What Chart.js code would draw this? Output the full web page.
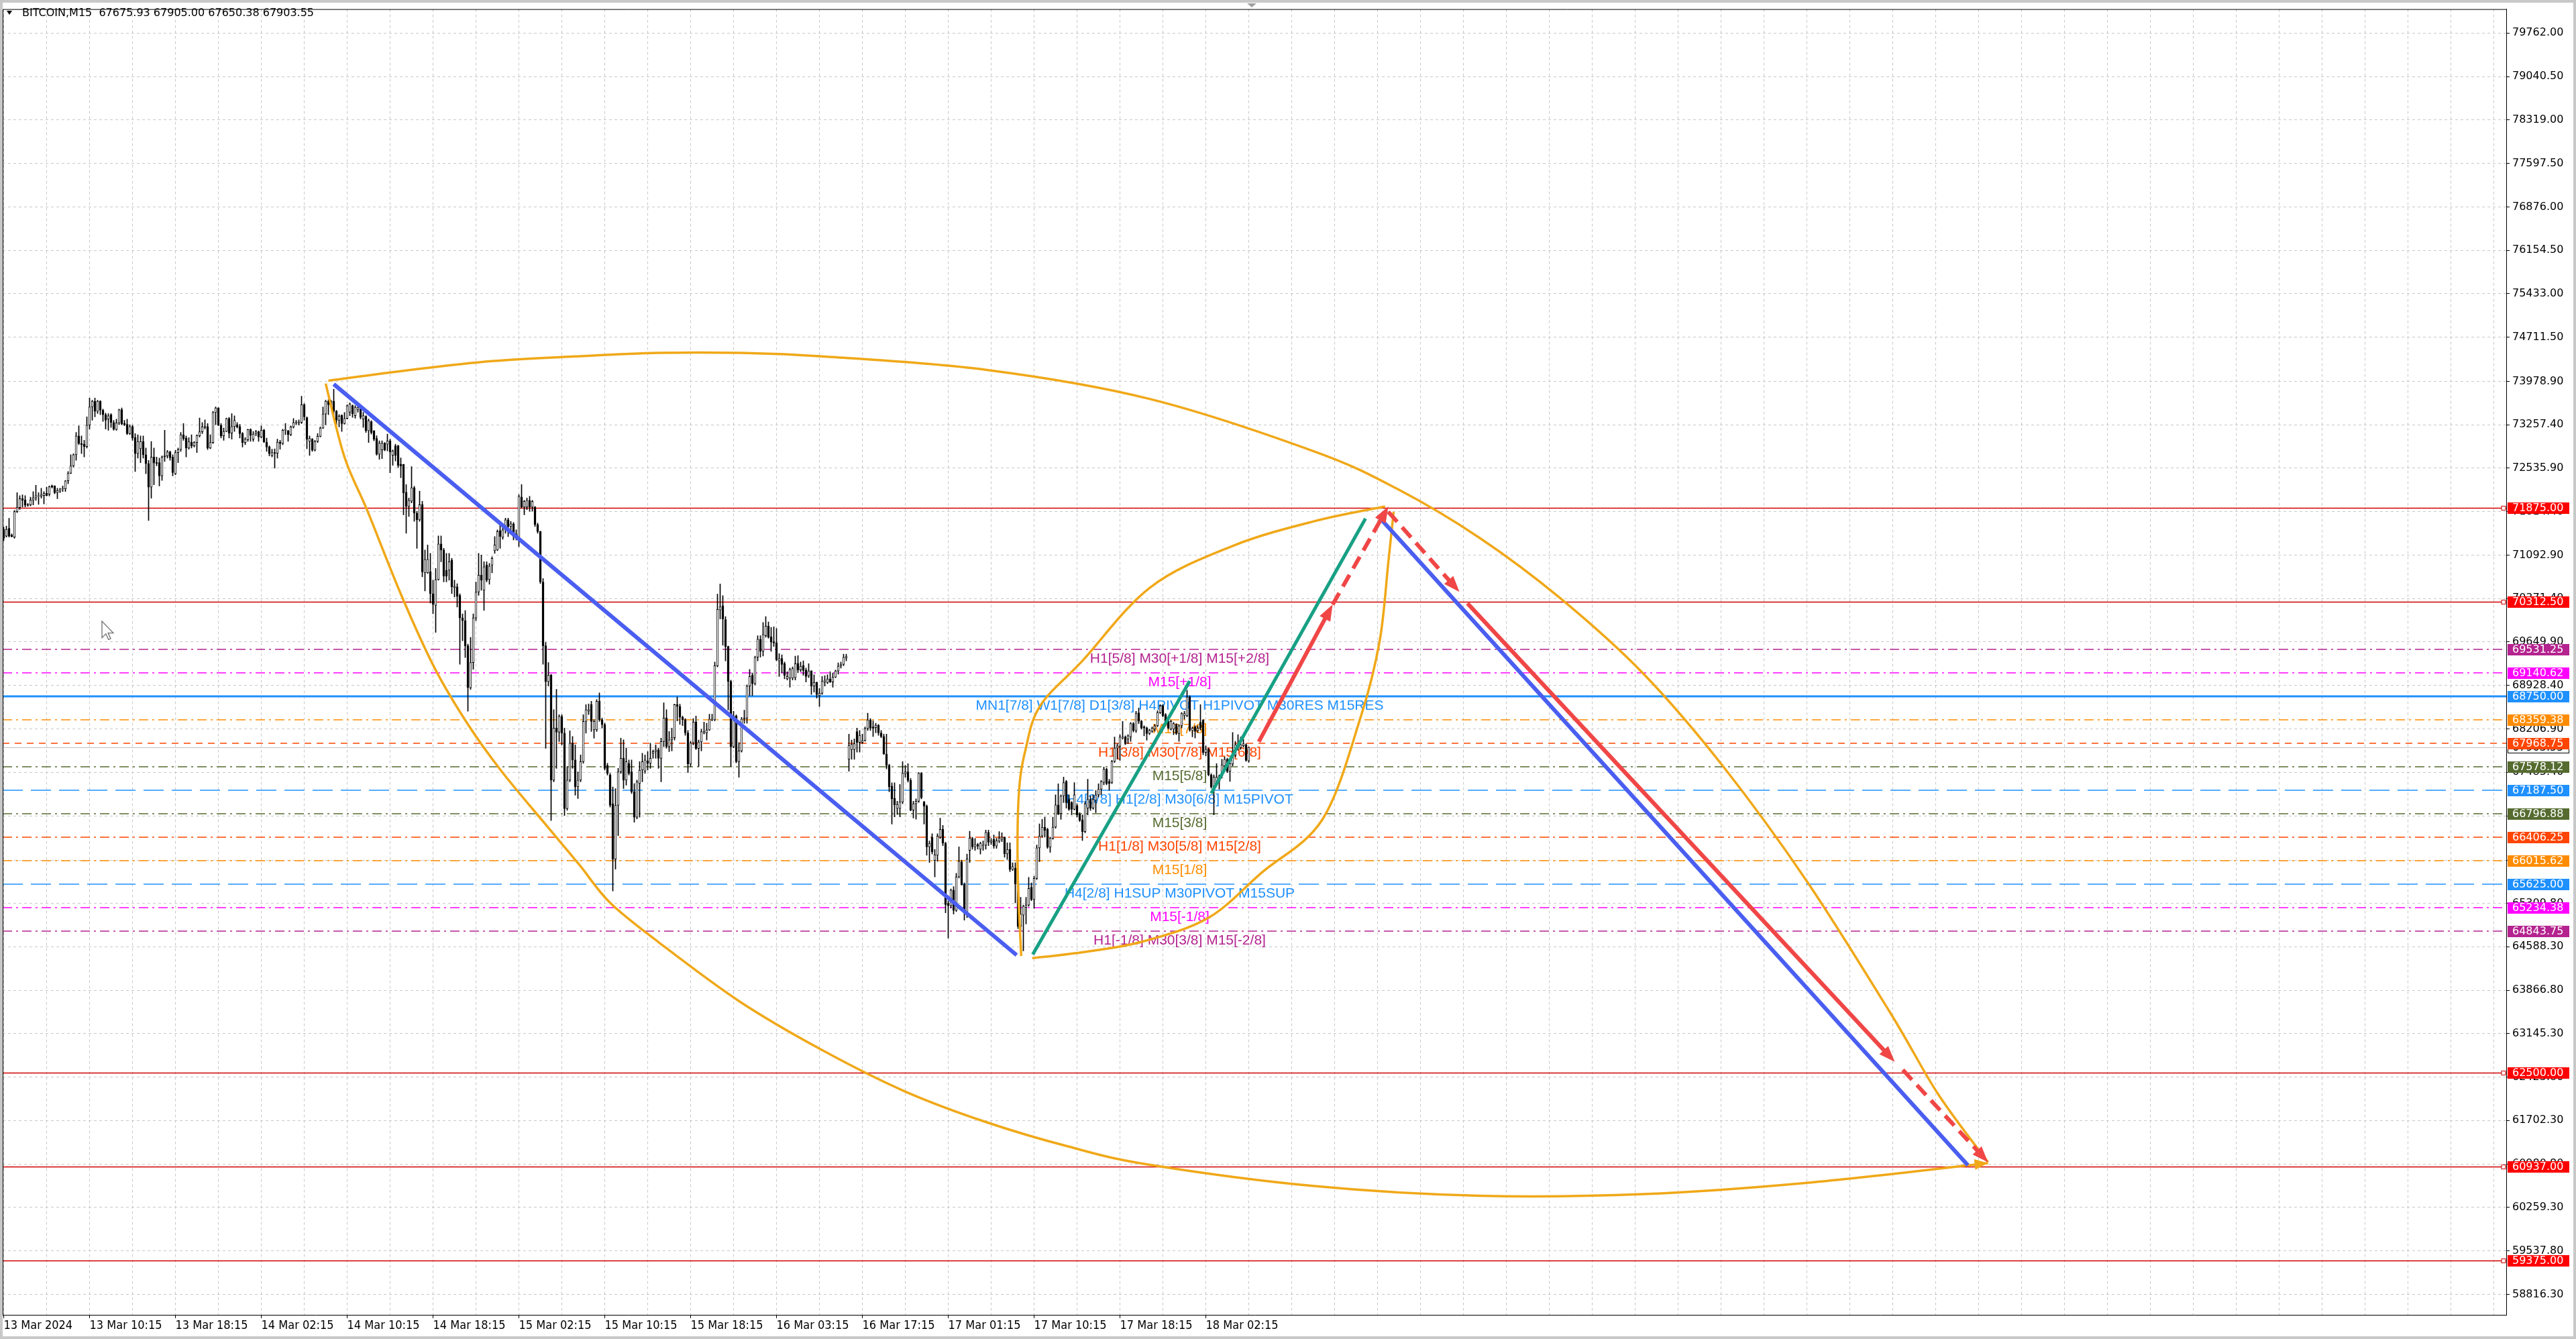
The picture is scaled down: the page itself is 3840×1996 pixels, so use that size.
<!DOCTYPE html>
<html>
<head>
<meta charset="utf-8">
<script src="https://cdn.jsdelivr.net/npm/chart.js@4.4.1/dist/chart.umd.min.js"></script>
<style>
  html, body { margin: 0; padding: 0; background: #fff; }
  canvas { display: block; }
</style>
</head>
<body>
<canvas id="chart" width="3840" height="1996" style="width:3840px;height:1996px"></canvas>
<script>
// BITCOIN M15 candles (bar index = position on the time axis)
const opens = [
71519,71408,71538,71427,71390,71815,71882,72030,72007,71933,
71926,72007,72044,72067,72067,72081,72118,72104,72241,72241,
72130,72155,72192,72192,72326,72451,72574,72759,73073,72944,
72932,72896,73251,73554,73647,73480,73647,73499,73425,73351,
73425,73295,73177,73288,73510,73277,73265,73110,73228,73043,
72777,72858,72977,72759,72611,72222,72722,72629,72629,72407,
72740,72740,72807,72722,72444,72796,72844,73092,73036,72870,
72970,72907,72962,73073,73140,73228,73228,72870,72962,73462,
73536,73251,73073,73147,73362,73118,73228,73258,73228,73110,
72962,73006,73177,73018,73110,73140,73055,73166,72970,72888,
72747,72796,72784,72970,72944,73166,73155,73092,73221,73288,
73288,73295,73591,73376,72981,73018,72833,72981,73066,73203,
73436,73647,73573,73647,73480,73332,73413,73277,73362,
73465,73577,73409,73510,73521,73353,73398,73158,73309,73158,
73030,72768,72840,72952,72935,72991,72751,72907,72907,72600,
72600,72137,71902,71986,72210,71791,71679,71930,70798,70798,
70815,70452,70257,70686,71278,71177,70842,70842,71010,70552,
70564,70424,70050,70005,69587,68889,69308,70050,70480,70759,
70508,70926,70686,70926,71166,71177,71501,71389,71512,71679,
71568,71612,71445,71373,72059,71891,71891,72003,71891,71891,
71596,71484,70647,69587,68990,69101,67355,68220,68153,68415,
68136,66881,67355,67969,67690,67243,67355,67662,68331,68499,
68611,68192,68192,68666,68359,68276,67595,67439,66964,66043,
66937,67494,67718,67355,67634,67494,67160,66741,67299,67522,
67506,67673,67634,67801,67829,67857,67718,67997,68387,67913,
68029,68060,68611,68579,68399,68359,68140,67622,67973,68320,
67881,67989,68140,68140,68188,68359,68359,69256,70181,70253,
70022,69575,68997,67909,68419,67662,67841,68371,68387,68917,
69097,68957,69396,69695,69495,69754,69914,69735,69655,69635,
69336,69376,69288,69037,69049,69049,69057,69296,69184,69256,
69184,69089,69169,68917,68977,68758,68798,68985,68977,69037,
68985,69065,69169,69248,69276,69384,67702,67861,67861,68160,
67981,67981,68013,68212,68355,68240,68228,68268,68140,68080,
67789,67602,67255,67056,66885,66885,66992,67462,67494,67351,
66857,66964,67004,67470,66992,66924,66247,66406,66020,66107,
66406,66538,66307,65310,65270,65529,65190,65749,65996,65621,
65151,66187,66386,66247,66287,66207,66267,66275,66486,66326,
66371,66260,66341,66371,66408,66131,66205,65872,65890,65631,
64928,65113,65242,65280,65576,65372,65724,66230,66427,66575,
66538,66241,66390,66575,66945,66797,67093,67333,67037,66982,
66871,66933,66786,66697,66500,66889,67037,66889,67019,67111,
67204,67315,67537,67333,67315,67666,67888,67918,68055,68073,
68036,68073,68295,68177,68473,68332,68240,68221,68129,68166,
68203,68258,68473,68591,68443,68339,68203,68203,68277,68129,
68258,68425,68425,68739,68177,68240,68177,68314,68351,67814,
67869,67444,67241,67315,67333,67426,67592,67703,67500,67622,
67770,67944,67895,67925,67944,67675.93
];
const highs = [
71556,71575,71704,71445,71834,72130,72081,72093,72081,71952,
72056,72148,72252,72130,72204,72148,72222,72241,72259,72245,
72204,72204,72241,72333,72481,72759,72777,73129,73240,73073,
72999,73388,73702,73665,73702,73665,73660,73517,73450,73443,
73443,73332,73351,73517,73536,73332,73351,73258,73251,73110,
73092,73073,73073,72870,72666,72981,72870,72722,72703,72740,
73166,72833,72821,72759,72833,72870,73129,73277,73073,73043,
73092,72981,73092,73369,73295,73339,73277,73092,73480,73554,
73543,73277,73203,73369,73380,73443,73406,73295,73265,73129,
73043,73184,73191,73147,73166,73154,73240,73184,73036,72907,
72851,72858,73018,72999,73184,73277,73166,73240,73362,73332,
73339,73732,73610,73388,73073,73029,72999,73110,73221,73554,
73665,73672,73665,73850,73499,73425,73425,73462,73591,
73621,73588,73577,73577,73532,73465,73409,73353,73326,73160,
73074,72991,72991,72963,73102,73019,72840,72935,72918,72706,
72600,72265,72042,72561,72237,71819,72154,71986,71177,71261,
71122,70675,70870,71412,71412,71205,71122,71122,71038,70675,
70619,70452,70117,70173,69615,69726,70117,70647,71122,71094,
70982,70982,70954,71066,71400,71512,71624,71568,71707,71707,
71652,71635,71512,72098,72265,72003,72042,72070,72003,71902,
71624,71490,70703,69643,69308,69113,68527,68862,68443,68443,
68220,67578,68175,68081,67941,67494,67774,68443,68611,68622,
68666,68359,68694,68806,68387,68304,67634,67467,67243,67215,
67550,68053,68025,67885,67690,67690,67299,67355,67662,67801,
67774,67829,67969,67857,67941,67885,68053,68639,68527,68164,
68220,68619,68738,68619,68419,68379,68180,68001,68379,68419,
68021,68200,68320,68300,68451,68451,69316,70444,70611,70420,
70073,69583,69017,68499,68439,67981,68399,68519,68937,69196,
69137,69416,69754,69754,69974,70073,69982,69894,69902,69874,
69456,69436,69316,69157,69216,69236,69416,69424,69316,69336,
69216,69288,69176,69105,68985,68878,69077,69089,69105,69157,
69137,69184,69304,69316,69448,69448,68120,68021,68041,68220,
68180,68120,68240,68467,68379,68339,68300,68280,68180,68120,
68120,67622,67311,67311,67004,67283,67662,67602,67630,67383,
67004,67044,67482,67482,67004,66944,66346,66466,66207,66466,
66725,66605,66326,65350,65549,65589,65808,66247,66028,65649,
66127,66506,66406,66386,66307,66326,66346,66526,66526,66386,
66445,66390,66500,66482,66408,66316,66316,65983,65983,65650,
65409,65280,65409,65742,65650,65761,66279,66630,66704,66741,
66556,66408,66741,67111,67296,67111,67407,67352,67111,67000,
67315,66963,66815,66778,67000,67370,67093,67111,67185,67296,
67352,67574,67555,67370,67685,68073,67962,68110,68332,68092,
68110,68314,68314,68499,68554,68351,68258,68240,68203,68240,
68277,68510,68610,68610,68462,68351,68351,68314,68295,68277,
68480,68499,68850,68758,68240,68258,68258,68610,68362,67925,
67888,67463,67444,67629,67444,67703,67740,67722,67648,68147,
67999,68110,68073,68036,67962,67905.00
];
const lows = [
71334,71390,71390,71390,71371,71797,71852,71889,71889,71900,
71908,71926,72000,71933,72037,71944,72074,72074,72204,72111,
72030,72130,72148,72148,72278,72444,72555,72666,72925,72777,
72722,72870,73184,73332,73388,73443,73425,73314,73184,73166,
73214,73166,73166,73258,73258,73240,73092,73092,72999,72481,
72703,72629,72703,72444,71667,72037,72259,72574,72241,72333,
72648,72703,72666,72407,72426,72629,72814,72999,72722,72851,
72870,72888,72796,73055,73110,73184,72844,72858,72944,73258,
73240,73036,72999,73140,73036,73018,73147,73203,73036,72888,
72925,72981,72981,72981,73073,72981,73036,72962,72814,72740,
72722,72537,72703,72851,72925,73092,72981,73073,73203,73258,
73251,73277,73332,72858,72747,72814,72821,72962,73055,73192,
73258,73425,73554,73425,73258,73221,73147,73265,73351,
73409,73381,73365,73465,73353,73214,73130,72963,73102,72991,
72751,72684,72695,72823,72823,72461,72583,72656,72544,72377,
71763,71456,71735,71958,71652,71205,71652,70731,70497,70787,
70296,70117,69810,70675,70982,70647,70647,70675,70452,70396,
70229,69280,69671,69392,68499,68862,69196,70005,70424,70508,
70173,70647,70608,70798,71122,71166,71205,71356,71456,71400,
71501,71345,71345,71233,71875,71763,71847,71819,71819,71568,
71456,70619,69280,67885,68917,66685,67327,67550,67997,67941,
66769,66853,67327,67550,67104,67048,67327,67634,68136,68443,
68164,68053,68164,68331,68220,67522,67439,66908,65514,65875,
66434,67467,67215,67271,67439,67132,66657,66713,66741,67327,
67467,67522,67550,67718,67718,67550,67327,67913,67885,67829,
67841,68021,68339,68280,68260,68100,67482,67582,67941,67861,
67582,67841,68120,68021,68180,68339,68339,69236,70033,69595,
69336,68519,67582,67893,67642,67403,67821,68300,68300,68758,
68758,68937,69336,69396,69416,69727,69711,69495,69575,69336,
69077,69137,69037,69017,68897,69017,69017,69137,69157,69097,
68985,69057,68778,68818,68718,68579,68778,68917,68957,68977,
68897,69057,69117,69216,69256,69336,67502,67702,67702,67821,
67821,67961,68001,68180,68180,68080,68140,68100,68060,67781,
67542,67164,66625,66745,66785,66745,66964,67403,67323,66845,
66725,66705,66984,67044,66625,66107,65988,66127,65749,66008,
66386,66267,65151,64732,65230,65131,65171,65729,65609,65031,
65071,65988,66207,66187,66207,66127,66187,66207,66267,66287,
66223,66223,66316,66334,66075,66038,65835,65853,65316,64891,
64854,64521,64965,65261,65354,65224,65705,66001,66408,66408,
66223,66156,66371,66556,66778,66704,66982,66889,66852,66778,
66860,66741,66667,66352,66482,66778,66852,66871,66815,67074,
67111,67278,67278,67185,67296,67648,67703,67685,68036,67944,
67962,67999,68154,68147,68295,68203,68092,68018,68110,68147,
68166,68240,68462,68406,68314,68203,68184,68110,68110,67999,
68221,68369,68406,68166,68073,68055,68147,68184,67777,67759,
67426,67222,66778,67259,67204,67389,67562,67481,67333,67592,
67740,67851,67869,67906,67666,67650.38
];
const closes = [
71371,71519,71408,71401,71815,71889,72030,72000,71919,71919,
72007,72044,72081,72081,72093,72118,72081,72229,72222,72130,
72166,72192,72204,72326,72451,72574,72759,73073,72944,72925,
72896,73251,73554,73647,73480,73647,73499,73425,73332,73406,
73295,73184,73288,73506,73273,73258,73110,73228,73036,72777,
72981,72981,72759,72611,72222,72722,72622,72618,72407,72722,
72729,72807,72710,72463,72796,72844,73092,73029,72870,72981,
72907,72962,73081,73140,73221,73214,72870,72962,73462,73536,
73251,73073,73147,73362,73118,73228,73332,73221,73110,72962,
73018,73177,73081,73103,73140,73055,73166,72970,72888,72777,
72796,72784,72970,72944,73166,73173,73092,73221,73295,73302,
73302,73591,73388,73018,73029,72833,72981,73066,73203,73436,
73647,73591,73647,73480,73332,73399,73277,73362,73573,
73605,73437,73549,73549,73381,73409,73158,73326,73130,73019,
72768,72952,72952,72840,72991,72807,72823,72751,72583,72572,
72126,71902,72003,72210,71791,71679,71930,70815,71021,71021,
70452,70273,70686,71278,71177,70742,70742,70982,70564,70575,
70407,70050,70005,69587,68889,69308,70050,70480,70759,70675,
70898,70675,70909,71038,71261,71484,71400,71512,71679,71568,
71612,71400,71373,72070,71891,71986,72003,71891,71986,71596,
71484,70647,69587,68990,69101,67355,68220,68153,68415,68136,
66881,67355,67969,67690,67243,67355,67662,68331,68527,68527,
68331,68331,68666,68359,68276,67550,67467,66937,66043,66937,
67494,67718,67355,67662,67467,67160,66741,67327,67522,67662,
67690,67634,67718,67829,67857,67718,67997,68387,67913,68025,
68060,68611,68579,68399,68359,68140,67622,67973,68320,67881,
67989,68160,68160,68188,68371,68371,69256,70193,70233,70033,
69575,68997,67909,68419,67662,67841,68371,68387,68917,69077,
68957,69396,69695,69495,69774,69914,69727,69647,69635,69356,
69376,69276,69097,69077,69196,69208,69288,69184,69248,69176,
69077,69169,68917,68977,68778,68798,68997,69017,69037,68985,
69065,69169,69248,69276,69396,69408,67933,67949,67961,67981,
68100,68013,68212,68355,68220,68220,68268,68140,68080,67789,
67602,67243,67044,66944,66952,66992,67470,67494,67351,66857,
66964,67004,67470,67064,66924,66247,66307,66167,66115,66426,
66538,66307,65290,65270,65529,65190,65749,66008,65621,65151,
66047,66394,66247,66287,66259,66307,66275,66486,66326,66346,
66260,66352,66390,66408,66131,66205,65872,65920,65631,64928,
65131,65261,65280,65557,65372,65724,66230,66427,66575,66519,
66241,66390,66575,66945,66797,67093,67315,66982,66871,66871,
67111,66778,66686,66500,66963,67037,66889,67037,67111,67204,
67333,67537,67296,67296,67666,67888,67925,68073,68073,67962,
68092,68295,68177,68462,68332,68221,68221,68129,68184,68221,
68258,68480,68591,68425,68332,68221,68332,68295,68129,68258,
68462,68462,68739,68184,68221,68166,68221,68221,67814,67869,
67444,67241,67407,67407,67426,67611,67703,67500,67629,67777,
67944,67888,67944,67962,67685,67903.55
];

// axis labels
const timeLabels = ["13 Mar 2024","13 Mar 10:15","13 Mar 18:15","14 Mar 02:15","14 Mar 10:15",
  "14 Mar 18:15","15 Mar 02:15","15 Mar 10:15","15 Mar 18:15","16 Mar 03:15","16 Mar 17:15",
  "17 Mar 01:15","17 Mar 10:15","17 Mar 18:15","18 Mar 02:15"];
const priceTicks = [79762.00,79040.50,78319.00,77597.50,76876.00,76154.50,75433.00,74711.50,
  73978.90,73257.40,72535.90,71814.40,71092.90,70371.40,69649.90,68928.40,68206.90,67485.40,
  66763.90,66021.30,65309.80,64588.30,63866.80,63145.30,62423.80,61702.30,60980.80,60259.30,
  59537.80,58816.30];

// horizontal levels
const redLevels = [71875, 70312.5, 62500, 60937, 59375];
const mmLevels = [69531.25, 69140.62, 68750, 68359.38, 67968.75, 67578.12, 67187.5,
  66796.88, 66406.25, 66015.62, 65625, 65234.38, 64843.75];
const mmTexts = ["H1[5/8] M30[+1/8] M15[+2/8]", "M15[+1/8]",
  "MN1[7/8] W1[7/8] D1[3/8] H4PIVOT H1PIVOT M30RES M15RES", "M15[7/8]",
  "H1[3/8] M30[7/8] M15[6/8]", "M15[5/8]", "H4[3/8] H1[2/8] M30[6/8] M15PIVOT", "M15[3/8]",
  "H1[1/8] M30[5/8] M15[2/8]", "M15[1/8]", "H4[2/8] H1SUP M30PIVOT M15SUP", "M15[-1/8]",
  "H1[-1/8] M30[3/8] M15[-2/8]"];
const bidPrice = 67903.55;
const header = "BITCOIN,M15  67675.93 67905.00 67650.38 67903.55";

// drawn objects, as [bar, price] points
const blueLines = [[[123, 73932], [377.5, 64450]], [[513, 71703], [732, 60960]]];
const greenLines = [[[383.5, 64460], [442, 69000]], [[450, 67136], [507.5, 71700]]];
const redSolid = [[[467.75, 67994], [495.25, 70270]], [[545.5, 70292], [704.75, 62677]]];
const redDashed = [[[495.25, 70270], [516, 71900]], [[516, 71812], [542.5, 70481]],
  [[707.75, 62544], [739.5, 61010]]];
const arcTop = [[121,73990],[152,74170],[182,74314],[213,74392],[244,74450],[274,74450],
  [305,74392],[366,74170],[427,73687],[488,72821],[519,72200],[550,71380],[580,70380],
  [611,69126],[641,67572],[672,65676],[703,63497],[721,62134],[739.5,61010]];
const arcBottom = [[120,73942],[127,72721],[135.5,71834],[148,70446],[160.5,69225],[173,68282],
  [185.5,67505],[202,66617],[214.5,65951],[226,65318],[244,64666],[274,63687],[305,62872],
  [335.5,62193],[366,61678],[397,61268],[427,60968],[488.5,60613],[550,60452],[611,60480],
  [672,60668],[739.5,60996]];
const arcLeft = [[379.2,64434],[377.9,65818],[378.3,67117],[380.8,67860],[386.3,68593],
  [402,69336],[427.3,70557],[458,71245],[488.5,71656],[514.8,71900]];
const arcRight = [[383.3,64398],[403.8,64509],[424.5,64675],[448.8,65064],[468.8,65818],
  [491.5,66706],[505.8,68416],[512.8,69670],[516,70969],[518,71812]];

// styles
const PURPLE = '#b4238f', MAGENTA = '#ff00ff', BLUE = '#1e90ff', ORANGE = '#ff8c00',
  ORANGERED = '#ff4500', OLIVE = '#556b2f';
const DASHDOT = [14, 6, 3, 6], DASH = [10, 8], LONG = [30, 12];
const mmColors = [PURPLE, MAGENTA, BLUE, ORANGE, ORANGERED, OLIVE, BLUE, OLIVE, ORANGERED,
  ORANGE, BLUE, MAGENTA, PURPLE];
const mmDash = [DASHDOT, DASHDOT, [], DASHDOT, DASH, DASHDOT, LONG, DASHDOT, DASHDOT, DASHDOT,
  LONG, DASHDOT, DASHDOT];
const textBar = 438.25;

const bars = opens.map((_, i) => i);
const fmt = v => v.toFixed(2);

function smoothPath(ctx, pts) {
  ctx.moveTo(pts[0][0], pts[0][1]);
  for (let i = 0; i < pts.length - 1; i++) {
    const p0 = pts[Math.max(i - 1, 0)], p1 = pts[i], p2 = pts[i + 1];
    const p3 = pts[Math.min(i + 2, pts.length - 1)];
    ctx.bezierCurveTo(p1[0] + (p2[0] - p0[0]) / 6, p1[1] + (p2[1] - p0[1]) / 6,
      p2[0] - (p3[0] - p1[0]) / 6, p2[1] - (p3[1] - p1[1]) / 6, p2[0], p2[1]);
  }
}

function arrowHead(ctx, from, to, len, half, color) {
  const a = Math.atan2(to[1] - from[1], to[0] - from[0]);
  const bx = to[0] - len * Math.cos(a), by = to[1] - len * Math.sin(a);
  ctx.fillStyle = color;
  ctx.beginPath();
  ctx.moveTo(to[0], to[1]);
  ctx.lineTo(bx + half * Math.sin(a), by - half * Math.cos(a));
  ctx.lineTo(bx - half * Math.sin(a), by + half * Math.cos(a));
  ctx.closePath();
  ctx.fill();
}

// shortened end so a thick line does not poke through its arrow tip
function backOff(from, to, d) {
  const a = Math.atan2(to[1] - from[1], to[0] - from[0]);
  return [to[0] - d * Math.cos(a), to[1] - d * Math.sin(a)];
}

const levelsPlugin = {
  id: 'levels',
  beforeDatasetsDraw(chart) {
    const { ctx, chartArea: a, scales: { x, y } } = chart;
    ctx.save();
    ctx.beginPath();
    ctx.rect(a.left, a.top, a.right - a.left, a.bottom - a.top);
    ctx.clip();

    // bid line
    let py = Math.round(y.getPixelForValue(bidPrice)) + 0.5;
    ctx.strokeStyle = '#c0c0c0';
    ctx.lineWidth = 1;
    ctx.beginPath(); ctx.moveTo(a.left, py); ctx.lineTo(a.right, py); ctx.stroke();

    // murrey math lines
    mmLevels.forEach((v, i) => {
      const yy = Math.round(y.getPixelForValue(v));
      ctx.strokeStyle = mmColors[i];
      ctx.lineWidth = i === 2 ? 3 : 1.5;
      ctx.setLineDash(mmDash[i]);
      ctx.beginPath(); ctx.moveTo(a.left, yy); ctx.lineTo(a.right, yy); ctx.stroke();
    });
    ctx.setLineDash([]);

    // red lines with the little square handle
    redLevels.forEach(v => {
      const yy = Math.round(y.getPixelForValue(v)) + 0.5;
      ctx.strokeStyle = '#d00000';
      ctx.lineWidth = 1.5;
      ctx.beginPath(); ctx.moveTo(a.left, yy); ctx.lineTo(a.right, yy); ctx.stroke();
      ctx.fillStyle = '#fff';
      ctx.lineWidth = 1;
      ctx.fillRect(a.right - 7, yy - 3, 6, 6);
      ctx.strokeRect(a.right - 7, yy - 3, 6, 6);
    });

    // level texts
    ctx.font = '21px "Liberation Sans", Arial, sans-serif';
    ctx.textAlign = 'center';
    ctx.textBaseline = 'alphabetic';
    const cx = x.getPixelForValue(textBar);
    mmLevels.forEach((v, i) => {
      ctx.fillStyle = mmColors[i];
      ctx.fillText(mmTexts[i], cx, y.getPixelForValue(v) + 20);
    });
    ctx.restore();
  },
  afterDatasetsDraw(chart) {
    const { ctx, chartArea: a, scales: { x, y } } = chart;
    const P = p => [x.getPixelForValue(p[0]), y.getPixelForValue(p[1])];
    ctx.save();
    ctx.beginPath();
    ctx.rect(a.left, a.top, a.right - a.left, a.bottom - a.top);
    ctx.clip();
    ctx.lineCap = 'butt';

    // orange curves
    ctx.strokeStyle = '#f0a818';
    ctx.lineWidth = 3.5;
    [arcTop, arcBottom, arcLeft, arcRight].forEach(arc => {
      const pts = arc.map(P);
      ctx.beginPath(); smoothPath(ctx, pts); ctx.stroke();
    });
    const ab = arcBottom.map(P);
    arrowHead(ctx, ab[ab.length - 2], ab[ab.length - 1], 20, 8, '#f0a818');

    // trend lines
    ctx.lineWidth = 6;
    ctx.strokeStyle = '#4a5ef0';
    blueLines.forEach(s => {
      const p = s.map(P);
      ctx.beginPath(); ctx.moveTo(p[0][0], p[0][1]); ctx.lineTo(p[1][0], p[1][1]); ctx.stroke();
    });
    ctx.lineWidth = 5;
    ctx.strokeStyle = '#17a084';
    greenLines.forEach(s => {
      const p = s.map(P);
      ctx.beginPath(); ctx.moveTo(p[0][0], p[0][1]); ctx.lineTo(p[1][0], p[1][1]); ctx.stroke();
    });

    // red arrows
    const RED = '#f04646';
    ctx.strokeStyle = RED;
    ctx.lineWidth = 6;
    const drawArrow = (s, dash) => {
      const p = s.map(P);
      const end = backOff(p[0], p[1], 14);
      ctx.setLineDash(dash);
      ctx.beginPath(); ctx.moveTo(p[0][0], p[0][1]); ctx.lineTo(end[0], end[1]); ctx.stroke();
      ctx.setLineDash([]);
      arrowHead(ctx, p[0], p[1], 24, 9, RED);
    };
    redSolid.forEach(s => drawArrow(s, []));
    redDashed.forEach(s => drawArrow(s, [20, 11]));
    ctx.restore();
  },
  afterDraw(chart) {
    const { ctx, chartArea: a, scales: { y } } = chart;
    ctx.save();
    // outer window frame and chart frame
    ctx.strokeStyle = '#c8c8c8';
    ctx.lineWidth = 4;
    ctx.strokeRect(2, 2, chart.width - 4, chart.height - 4);
    ctx.strokeStyle = '#000';
    ctx.lineWidth = 1;
    ctx.beginPath();
    ctx.moveTo(a.left + 0.5, a.bottom); ctx.lineTo(a.left + 0.5, a.top + 0.5);
    ctx.lineTo(a.right, a.top + 0.5);
    ctx.stroke();

    // price boxes on the right scale
    ctx.font = '16px "DejaVu Sans", Verdana, sans-serif';
    ctx.textAlign = 'left';
    ctx.textBaseline = 'middle';
    const box = (v, bg, fg, border) => {
      const yy = Math.round(y.getPixelForValue(v));
      ctx.fillStyle = bg;
      ctx.fillRect(a.right + 2, yy - 8, 92, 17);
      if (border) {
        ctx.strokeStyle = border;
        ctx.strokeRect(a.right + 2.5, yy - 7.5, 91, 16);
      }
      ctx.fillStyle = fg;
      ctx.fillText(fmt(v), a.right + 9, yy + 1);
    };
    box(bidPrice, '#fff', '#000', '#000');
    mmLevels.forEach((v, i) => box(v, mmColors[i], '#fff'));
    redLevels.forEach(v => box(v, '#ff0000', '#fff'));

    // header
    ctx.fillStyle = '#000';
    ctx.beginPath();
    ctx.moveTo(10, 16); ctx.lineTo(18, 16); ctx.lineTo(14, 22); ctx.closePath(); ctx.fill();
    ctx.font = '16px "DejaVu Sans", Verdana, sans-serif';
    ctx.textBaseline = 'middle';
    ctx.fillText(header, 33, 20);

    // chart shift marker
    ctx.fillStyle = '#a0a0a0';
    ctx.beginPath();
    ctx.moveTo(1859, 5); ctx.lineTo(1873, 5); ctx.lineTo(1866, 11); ctx.closePath(); ctx.fill();

    // mouse cursor
    ctx.translate(152, 926);
    ctx.scale(1.3, 1.3);
    ctx.beginPath();
    ctx.moveTo(0, 0); ctx.lineTo(0, 19); ctx.lineTo(4.5, 14.5); ctx.lineTo(7.5, 21);
    ctx.lineTo(10, 20); ctx.lineTo(7, 13.5); ctx.lineTo(13, 13.5); ctx.closePath();
    ctx.fillStyle = '#fff'; ctx.fill();
    ctx.strokeStyle = '#707070'; ctx.lineWidth = 1; ctx.stroke();
    ctx.restore();
  }
};

new Chart(document.getElementById('chart'), {
  type: 'bar',
  data: {
    datasets: [
      {
        label: 'body',
        data: bars.map(i => ({ x: i, y: [opens[i], closes[i]] })),
        backgroundColor: bars.map(i => closes[i] >= opens[i] ? '#ffffff' : '#000000'),
        borderColor: '#000',
        borderWidth: 1,
        borderSkipped: false,
        barThickness: 3,
        minBarLength: 1,
        grouped: false,
        order: 0
      },
      {
        label: 'wick',
        data: bars.map(i => ({ x: i, y: [lows[i], highs[i]] })),
        backgroundColor: '#000',
        borderWidth: 0,
        barThickness: 1,
        grouped: false,
        order: 1
      }
    ]
  },
  options: {
    responsive: false,
    animation: false,
    devicePixelRatio: 1,
    events: [],
    layout: { padding: { left: 4, top: 4, right: 0, bottom: 0 } },
    plugins: { legend: { display: false }, tooltip: { enabled: false } },
    scales: {
      x: {
        type: 'linear',
        min: -0.375,
        max: 932.625,
        offset: false,
        afterBuildTicks: s => {
          const t = [];
          for (let v = 0; v <= 928; v += 16) t.push({ value: v });
          s.ticks = t;
        },
        afterFit: s => { s.height = 36; },
        grid: {
          color: '#c8c8c8',
          lineWidth: 1,
          offset: false,
          tickLength: 5,
          tickColor: c => (c.tick && c.tick.value % 32 === 0 && c.tick.value / 32 < timeLabels.length)
            ? '#000' : 'rgba(0,0,0,0)'
        },
        border: { display: true, color: '#000', width: 1, dash: [4, 4] },
        ticks: {
          autoSkip: false,
          maxRotation: 0,
          align: 'start',
          padding: 1,
          color: '#000',
          font: { family: '"DejaVu Sans Condensed", "DejaVu Sans"', size: 18 },
          callback: v => (v % 32 === 0 && v / 32 < timeLabels.length) ? timeLabels[v / 32] : ''
        }
      },
      y: {
        type: 'linear',
        position: 'right',
        min: 58475,
        max: 80160,
        afterBuildTicks: s => { s.ticks = priceTicks.map(v => ({ value: v })); },
        afterFit: s => { s.width = 104; },
        grid: { color: '#c8c8c8', lineWidth: 1, tickLength: 5, tickColor: '#000' },
        border: { display: true, color: '#000', width: 1, dash: [4, 4] },
        ticks: {
          autoSkip: false,
          padding: 4,
          color: '#000',
          font: { family: '"DejaVu Sans"', size: 16 },
          callback: v => fmt(v)
        }
      }
    }
  },
  plugins: [levelsPlugin]
});
</script>
</body>
</html>
